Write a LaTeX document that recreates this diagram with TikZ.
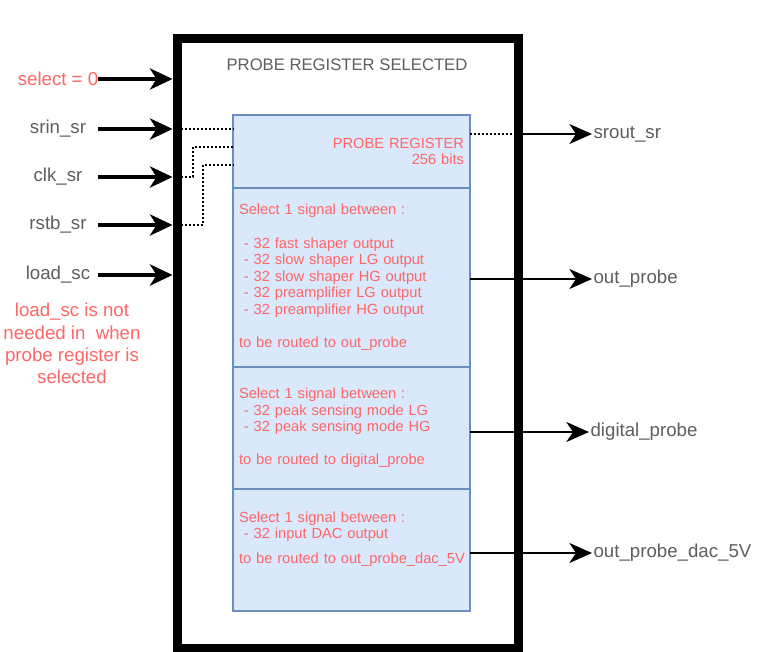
\documentclass[tikz,border=0pt]{standalone}
\usepackage{fontspec}
\setmainfont{Liberation Sans}
\usetikzlibrary{arrows.meta,positioning}
\definecolor{regfill}{HTML}{DAE8FC}
\definecolor{regline}{HTML}{6C8EBF}
\definecolor{notered}{HTML}{FF6666}
\definecolor{lblgray}{HTML}{5E5E5E}

\begin{document}
\begin{tikzpicture}[
  x=0.75pt, y=-0.75pt,
  font=\fontsize{11}{12.45}\selectfont,
  node distance=0pt,
  chip/.style={draw, line width=6.75pt, minimum width=256.1pt,
               minimum height=457pt, inner sep=0pt},
  sect/.style={draw=regline, fill=regfill, line width=1.5pt, outer sep=0pt,
               minimum width=177.75pt, text width=168.75pt, inner sep=4.5pt,
               text=notered, align=left},
  lbl/.style={font=\fontsize{14}{16.7}\selectfont, text=lblgray,
              inner sep=0pt, minimum width=60pt},
  outlbl/.style={font=\fontsize{14}{16.7}\selectfont, text=lblgray,
                 inner sep=1pt, anchor=west},
  inarr/.style={-{Stealth[length=17pt, width=16pt, inset=5pt]}, line width=2.4pt},
  outarr/.style={-{Stealth[length=17pt, width=15pt, inset=5pt]}, line width=1.6pt},
  dotline/.style={line width=1.5pt, dash pattern=on 1.5pt off 1.5pt}
]
\useasboundingbox (0,0) rectangle (760,652);
% chip outline and title
\node[chip] (chip) at (347.75,343.35) {};
\node[font=\fontsize{12.5}{15}\selectfont, text=lblgray] (title) at (347,65)
  {PROBE REGISTER SELECTED};
% register and multiplexer sections
\node[sect, minimum height=54.75pt, anchor=north, align=right] (preg) at (351.5,115)
  {PROBE REGISTER\\256 bits};
\node[sect, minimum height=134.25pt, below=of preg] (sel1)
  {Select 1 signal between :\\[12.45pt]
   \ - 32 fast shaper output\\
   \ - 32 slow shaper LG output\\
   \ - 32 slow shaper HG output\\
   \ - 32 preamplifier LG output\\
   \ - 32 preamplifier HG output\\[12.45pt]
   to be routed to out\_probe};
\node[sect, minimum height=91.5pt, below=of sel1] (sel2)
  {Select 1 signal between :\\
   \ - 32 peak sensing mode LG\\
   \ - 32 peak sensing mode HG\\[12.45pt]
   to be routed to digital\_probe};
\node[sect, minimum height=91.5pt, below=of sel2] (sel3)
  {Select 1 signal between :\\
   \ - 32 input DAC output\\[6.2pt]
   \mbox{to be routed to out\_probe\_dac\_5V}\\[6.3pt]\mbox{}};
% inputs
\node[lbl, text=notered] (selin) at (58,79) {select = 0};
\node[lbl] (srin) at (58,129) {srin\_sr};
\node[lbl] (clk) at (58,177) {clk\_sr};
\node[lbl] (rstb) at (58,225) {rstb\_sr};
\node[lbl] (load) at (58,275) {load\_sc};
\node[lbl, text=notered, align=center, minimum width=0pt] (note) at (72,343.5)
  {load\_sc is not\\needed in \ when\\probe register is\\selected};
% outputs
\node[outlbl] (srout) at (592,134) {srout\_sr};
\node[outlbl] (outprobe) at (592,279) {out\_probe};
\node[outlbl] (digprobe) at (589,432) {digital\_probe};
\node[outlbl] (dacprobe) at (592,553) {out\_probe\_dac\_5V};
% internal shift register wiring
\coordinate (clkbend) at (193,147);
\coordinate (rstbend) at (203,165);
\draw[dotline] (srin.east -| chip.west) -- (srin.east -| preg.west);
\draw[dotline] (clk.east -| chip.west) -| (clkbend) -- (clkbend -| preg.west);
\draw[dotline] (rstb.east -| chip.west) -| (rstbend) -- (rstbend -| preg.west);
\draw[dotline] (preg.east |- srout.west) -- (srout.west -| chip.east);
% arrows
\draw[inarr] (selin.east) -- (selin.east -| chip.west);
\draw[inarr] (srin.east) -- (srin.east -| chip.west);
\draw[inarr] (clk.east) -- (clk.east -| chip.west);
\draw[inarr] (rstb.east) -- (rstb.east -| chip.west);
\draw[inarr] (load.east) -- (load.east -| chip.west);
\draw[outarr] (srout.west -| chip.east) -- (srout.west);
\draw[outarr] (sel1.east |- outprobe.west) -- (outprobe.west);
\draw[outarr] (sel2.east |- digprobe.west) -- (digprobe.west);
\draw[outarr] (sel3.east |- dacprobe.west) -- (dacprobe.west);
\end{tikzpicture}
\end{document}
